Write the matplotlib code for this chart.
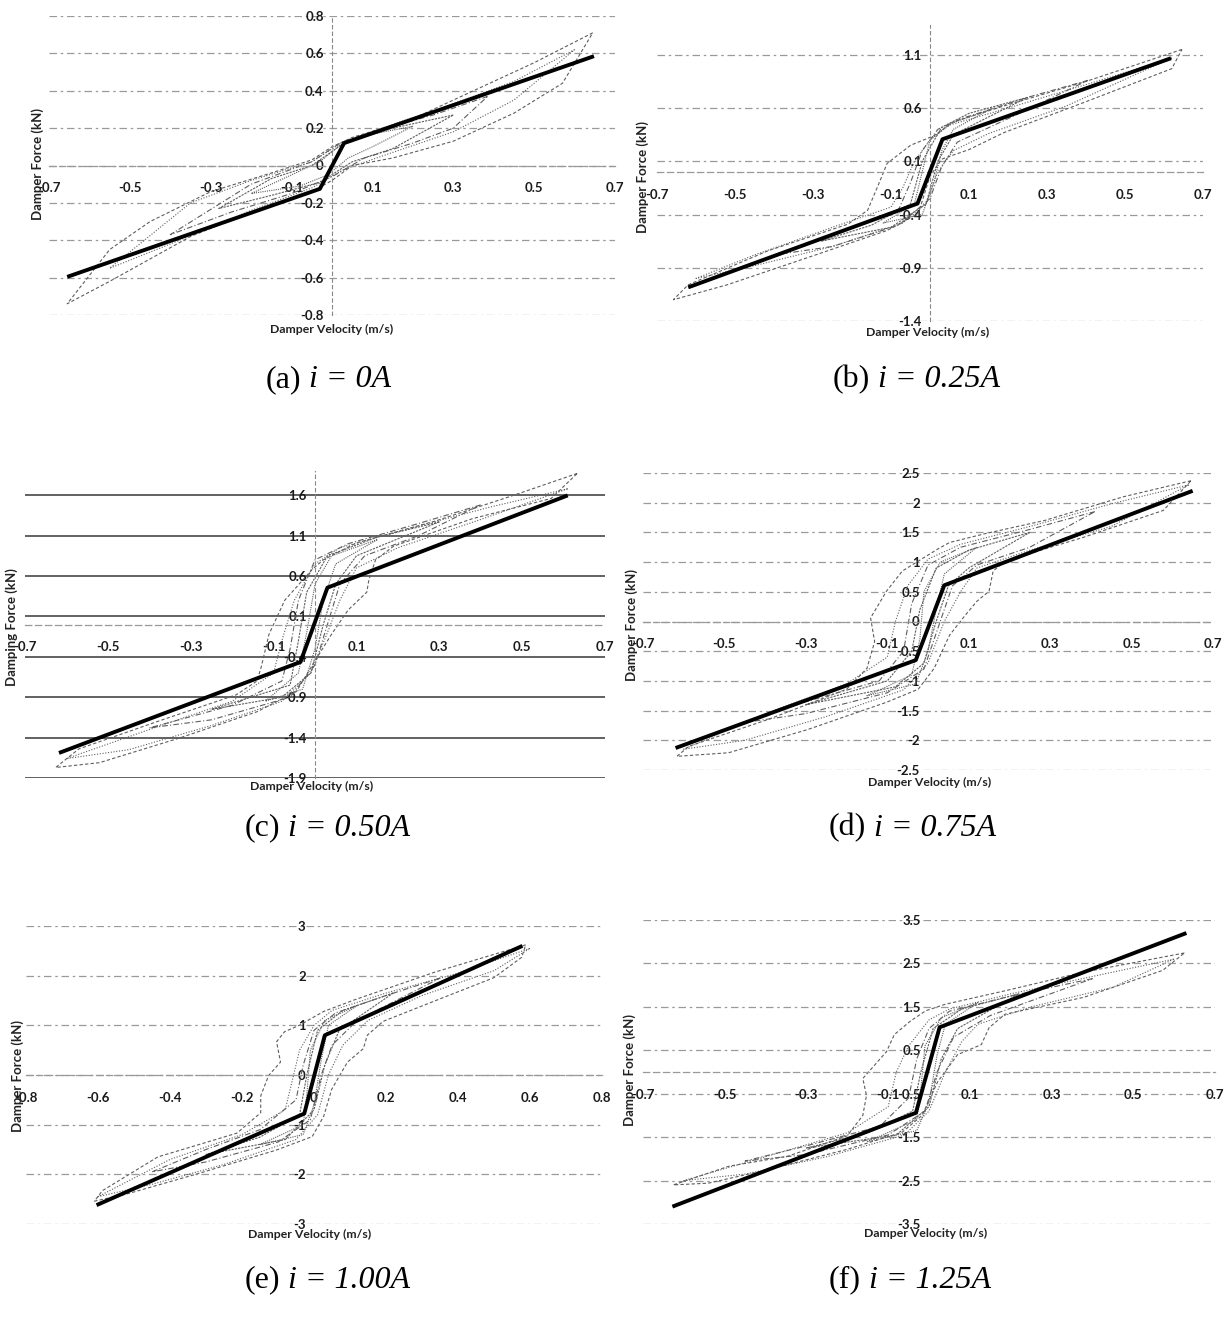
import numpy as np
import matplotlib
matplotlib.use("Agg")
import matplotlib.pyplot as plt

plt.rcParams['font.family'] = ['Lato', 'DejaVu Sans']

# ---------- data (velocity m/s, force kN) ----------
# bilinear model lines (thick black)
A_MODEL_V = [-0.655, -0.03, 0.03, 0.648]
A_MODEL_F = [-0.596, -0.125, 0.12, 0.585]
B_MODEL_V = [-0.62, -0.032, 0.032, 0.618]
B_MODEL_F = [-1.084, -0.297, 0.307, 1.068]
C_MODEL_V = [-0.618, -0.035, 0.03, 0.61]
C_MODEL_F = [-1.59, -0.464, 0.456, 1.598]
D_MODEL_V = [-0.62, -0.03, 0.04, 0.65]
D_MODEL_F = [-2.13, -0.65, 0.61, 2.2]
E_MODEL_V = [-0.604, -0.027, 0.03, 0.579]
E_MODEL_F = [-2.62, -0.777, 0.80, 2.6]
F_MODEL_V = [-0.628, -0.032, 0.026, 0.63]
F_MODEL_F = [-3.10, -0.94, 1.03, 3.20]

# measured hysteresis loops (thin grey), points in drawing order
A_LOOP1 = [(0.645, 0.71), (0.5, 0.55), (0.35, 0.40), (0.2, 0.25), (0.05, 0.15), (0.0, 0.10),
           (-0.05, 0.03), (-0.15, -0.04), (-0.3, -0.14), (-0.45, -0.30), (-0.55, -0.45),
           (-0.655, -0.74), (-0.55, -0.62), (-0.45, -0.50), (-0.35, -0.38), (-0.2, -0.25),
           (-0.05, -0.14), (0.0, -0.08), (0.05, 0.0), (0.15, 0.04), (0.3, 0.13), (0.45, 0.28),
           (0.57, 0.44)]
A_LOOP2 = [(0.60, 0.62), (0.45, 0.45), (0.3, 0.33), (0.15, 0.22), (0.03, 0.13), (-0.05, 0.02),
           (-0.2, -0.08), (-0.35, -0.2), (-0.55, -0.55), (-0.4, -0.42), (-0.2, -0.24),
           (-0.05, -0.12), (0.03, -0.02), (0.15, 0.07), (0.3, 0.18), (0.45, 0.35)]
A_LOOP3 = [(0.385, 0.37), (0.25, 0.27), (0.1, 0.18), (0.02, 0.12), (-0.05, 0.02), (-0.2, -0.10),
           (-0.4, -0.37), (-0.25, -0.25), (-0.1, -0.15), (0.0, -0.06), (0.08, 0.04), (0.2, 0.12),
           (0.3, 0.2)]
A_LOOP4 = [(0.3, 0.27), (0.15, 0.2), (0.03, 0.12), (-0.05, 0.0), (-0.15, -0.07), (-0.28, -0.23),
           (-0.15, -0.16), (-0.03, -0.09), (0.05, 0.02), (0.15, 0.09)]
A_LOOP5 = [(0.2, 0.21), (0.08, 0.16), (0.02, 0.11), (-0.03, 0.02), (-0.1, -0.05), (-0.2, -0.15),
           (-0.08, -0.11), (-0.01, -0.05), (0.04, 0.04), (0.1, 0.1)]

B_LOOP1 = [(0.646, 1.15), (0.4, 0.85), (0.19, 0.62), (0.06, 0.47), (0.01, 0.34), (-0.05, 0.25),
           (-0.11, 0.08), (-0.13, -0.1), (-0.16, -0.36), (-0.21, -0.49), (-0.415, -0.74),
           (-0.62, -1.06), (-0.658, -1.2), (-0.52, -1.06), (-0.31, -0.80), (-0.11, -0.55),
           (-0.03, -0.39), (0.0, -0.04), (0.03, 0.12), (0.1, 0.21), (0.19, 0.37), (0.4, 0.66),
           (0.62, 0.97)]
B_LOOP2 = [(0.62, 1.07), (0.4, 0.82), (0.2, 0.6), (0.05, 0.44), (0.0, 0.3), (-0.04, 0.1),
           (-0.07, -0.15), (-0.1, -0.33), (-0.25, -0.52), (-0.45, -0.78), (-0.6, -1.0),
           (-0.45, -0.88), (-0.25, -0.7), (-0.07, -0.48), (-0.01, -0.3), (0.02, 0.0),
           (0.06, 0.2), (0.15, 0.36), (0.35, 0.62)]
B_LOOP3 = [(0.405, 0.86), (0.25, 0.7), (0.08, 0.5), (0.02, 0.4), (-0.02, 0.2), (-0.05, -0.1),
           (-0.08, -0.35), (-0.2, -0.52), (-0.4, -0.78), (-0.25, -0.7), (-0.08, -0.5),
           (0.0, -0.25), (0.03, 0.05), (0.07, 0.28), (0.2, 0.5)]
B_LOOP4 = [(0.25, 0.7), (0.1, 0.55), (0.03, 0.42), (-0.02, 0.1), (-0.05, -0.3), (-0.15, -0.5),
           (-0.28, -0.65), (-0.1, -0.52), (-0.01, -0.3), (0.02, 0.1), (0.06, 0.35)]
B_LOOP5 = [(0.15, 0.58), (0.05, 0.45), (0.0, 0.3), (-0.02, 0.0), (-0.04, -0.3), (-0.12, -0.48),
           (-0.02, -0.4), (0.01, -0.1), (0.03, 0.2), (0.06, 0.4)]

C_LOOP1 = [(0.633, 1.87), (0.48, 1.6), (0.29, 1.28), (0.1, 1.01), (0.02, 0.8), (-0.007, 0.68),
           (-0.073, 0.3), (-0.111, -0.12), (-0.13, -0.53), (-0.14, -0.70), (-0.19, -0.87),
           (-0.38, -1.2), (-0.57, -1.54), (-0.626, -1.77), (-0.52, -1.71), (-0.33, -1.41),
           (-0.14, -1.08), (-0.045, -0.83), (0.0, -0.45), (0.04, -0.12), (0.08, 0.18),
           (0.125, 0.4), (0.13, 0.55), (0.146, 0.80), (0.19, 0.97), (0.38, 1.31), (0.57, 1.56)]
C_LOOP2 = [(0.61, 1.68), (0.42, 1.45), (0.22, 1.18), (0.06, 0.95), (0.0, 0.75), (-0.05, 0.3),
           (-0.08, -0.2), (-0.1, -0.6), (-0.2, -0.95), (-0.4, -1.3), (-0.6, -1.66), (-0.45, -1.55),
           (-0.25, -1.25), (-0.08, -0.95), (-0.01, -0.6), (0.03, -0.1), (0.06, 0.3), (0.1, 0.7),
           (0.2, 0.95), (0.4, 1.3)]
C_LOOP3 = [(0.4, 1.48), (0.25, 1.25), (0.08, 1.0), (0.0, 0.8), (-0.04, 0.3), (-0.06, -0.3),
           (-0.08, -0.7), (-0.2, -1.0), (-0.4, -1.28), (-0.25, -1.18), (-0.06, -0.9), (0.0, -0.5),
           (0.03, 0.0), (0.06, 0.5), (0.12, 0.85), (0.25, 1.1)]
C_LOOP4 = [(0.3, 1.27), (0.15, 1.08), (0.03, 0.85), (-0.02, 0.4), (-0.04, -0.2), (-0.06, -0.75),
           (-0.25, -1.05), (-0.08, -0.9), (-0.01, -0.6), (0.02, 0.0), (0.05, 0.5), (0.1, 0.85)]
C_LOOP5 = [(0.15, 1.05), (0.04, 0.85), (0.0, 0.5), (-0.02, -0.1), (-0.04, -0.6), (-0.12, -0.95),
           (-0.03, -0.8), (0.0, -0.3), (0.02, 0.3), (0.05, 0.75)]

D_LOOP1 = [(0.646, 2.37), (0.48, 2.1), (0.286, 1.7), (0.141, 1.48), (0.053, 1.33), (0.024, 1.22),
           (-0.063, 0.85), (-0.102, 0.51), (-0.141, 0.06), (-0.131, -0.34), (-0.15, -0.79),
           (-0.2, -1.14), (-0.393, -1.65), (-0.587, -2.1), (-0.617, -2.27), (-0.49, -2.21),
           (-0.296, -1.82), (-0.102, -1.36), (-0.024, -1.14), (0.015, -0.79), (0.053, -0.23),
           (0.092, 0.11), (0.12, 0.34), (0.15, 0.51), (0.16, 0.85), (0.19, 1.02), (0.383, 1.42),
           (0.578, 1.87)]
D_LOOP2 = [(0.64, 2.3), (0.45, 1.98), (0.25, 1.6), (0.08, 1.3), (0.0, 1.05), (-0.05, 0.6),
           (-0.08, 0.0), (-0.1, -0.6), (-0.2, -1.05), (-0.4, -1.55), (-0.6, -2.15), (-0.45, -2.0),
           (-0.25, -1.6), (-0.06, -1.15), (0.0, -0.7), (0.04, 0.0), (0.08, 0.5), (0.12, 0.9),
           (0.25, 1.2), (0.45, 1.6)]
D_LOOP3 = [(0.41, 1.85), (0.25, 1.55), (0.08, 1.25), (0.0, 0.95), (-0.04, 0.3), (-0.06, -0.5),
           (-0.12, -1.0), (-0.3, -1.35), (-0.45, -1.7), (-0.3, -1.55), (-0.1, -1.2), (-0.01, -0.8),
           (0.03, 0.0), (0.06, 0.6), (0.12, 0.95), (0.25, 1.25)]
D_LOOP4 = [(0.25, 1.5), (0.1, 1.2), (0.02, 0.9), (-0.02, 0.2), (-0.04, -0.5), (-0.1, -1.0),
           (-0.3, -1.4), (-0.08, -1.1), (-0.01, -0.7), (0.02, 0.0), (0.05, 0.6), (0.1, 0.9)]
D_LOOP5 = [(0.12, 1.25), (0.03, 1.0), (-0.01, 0.5), (-0.02, -0.3), (-0.04, -0.9), (-0.15, -1.25),
           (-0.03, -1.05), (0.0, -0.5), (0.02, 0.2), (0.04, 0.8)]

E_LOOP1 = [(0.588, 2.62), (0.335, 2.07), (0.115, 1.52), (0.027, 1.28), (-0.005, 1.15),
           (-0.038, 1.01), (-0.082, 0.87), (-0.104, 0.67), (-0.093, 0.26), (-0.126, -0.01),
           (-0.148, -0.42), (-0.148, -0.76), (-0.214, -1.17), (-0.434, -1.65), (-0.588, -2.33),
           (-0.61, -2.54), (-0.522, -2.4), (-0.324, -1.99), (-0.104, -1.51), (-0.005, -1.24),
           (0.027, -0.83), (0.049, -0.29), (0.093, 0.26), (0.137, 0.53), (0.148, 0.80),
           (0.192, 1.08), (0.335, 1.49), (0.5, 1.96), (0.577, 2.37)]
E_LOOP2 = [(0.6, 2.55), (0.4, 2.05), (0.2, 1.65), (0.05, 1.3), (0.0, 1.0), (-0.04, 0.5),
           (-0.06, -0.1), (-0.08, -0.7), (-0.2, -1.2), (-0.4, -1.7), (-0.6, -2.45), (-0.45, -2.2),
           (-0.25, -1.8), (-0.05, -1.3), (0.01, -0.8), (0.04, 0.0), (0.08, 0.6), (0.15, 1.1),
           (0.3, 1.6), (0.5, 2.1)]
E_LOOP3 = [(0.35, 1.95), (0.2, 1.6), (0.06, 1.25), (0.0, 0.9), (-0.03, 0.2), (-0.05, -0.5),
           (-0.15, -1.1), (-0.3, -1.5), (-0.45, -1.95), (-0.3, -1.75), (-0.1, -1.35), (-0.01, -0.9),
           (0.02, 0.0), (0.05, 0.6), (0.12, 1.1)]
E_LOOP4 = [(0.22, 1.65), (0.08, 1.3), (0.01, 0.9), (-0.02, 0.0), (-0.04, -0.8), (-0.15, -1.25),
           (-0.3, -1.6), (-0.08, -1.3), (0.0, -0.7), (0.03, 0.2), (0.07, 0.9)]
E_LOOP5 = [(0.12, 1.4), (0.03, 1.1), (-0.01, 0.5), (-0.02, -0.4), (-0.03, -1.0), (-0.15, -1.4),
           (-0.03, -1.2), (0.0, -0.6), (0.02, 0.3), (0.04, 1.0)]

F_LOOP1 = [(0.625, 2.74), (0.379, 2.3), (0.186, 1.87), (0.04, 1.56), (-0.008, 1.41),
           (-0.046, 1.17), (-0.085, 0.86), (-0.104, 0.47), (-0.162, -0.15), (-0.153, -0.54),
           (-0.162, -1.0), (-0.2, -1.47), (-0.346, -1.94), (-0.49, -2.17), (-0.626, -2.6),
           (-0.54, -2.56), (-0.394, -2.25), (-0.2, -1.78), (-0.066, -1.39), (-0.017, -1.0),
           (0.021, -0.23), (0.07, 0.4), (0.128, 0.63), (0.147, 1.02), (0.186, 1.33),
           (0.379, 1.72), (0.572, 2.34)]
F_LOOP2 = [(0.6, 2.6), (0.4, 2.2), (0.2, 1.8), (0.05, 1.45), (0.0, 1.2), (-0.05, 0.6),
           (-0.08, 0.0), (-0.1, -0.8), (-0.2, -1.4), (-0.4, -1.95), (-0.6, -2.5), (-0.45, -2.35),
           (-0.25, -1.95), (-0.06, -1.45), (0.0, -0.9), (0.04, 0.0), (0.08, 0.7), (0.12, 1.1),
           (0.25, 1.5), (0.45, 1.95)]
F_LOOP3 = [(0.4, 2.15), (0.2, 1.75), (0.05, 1.4), (0.0, 1.0), (-0.03, 0.3), (-0.05, -0.6),
           (-0.12, -1.25), (-0.3, -1.7), (-0.45, -2.05), (-0.3, -1.9), (-0.1, -1.45), (-0.01, -0.9),
           (0.02, 0.0), (0.06, 0.8), (0.15, 1.3)]
F_LOOP4 = [(0.22, 1.8), (0.08, 1.45), (0.01, 1.0), (-0.02, 0.0), (-0.04, -0.9), (-0.15, -1.4),
           (-0.3, -1.75), (-0.08, -1.45), (0.0, -0.8), (0.03, 0.3), (0.07, 1.0)]
F_LOOP5 = [(0.12, 1.6), (0.03, 1.25), (-0.01, 0.6), (-0.02, -0.4), (-0.03, -1.1), (-0.15, -1.6),
           (-0.03, -1.35), (0.0, -0.7), (0.02, 0.4), (0.04, 1.1)]

# axis ticks
X_TICKS_07 = [-0.7, -0.5, -0.3, -0.1, 0.1, 0.3, 0.5, 0.7]
X_TICKS_08 = [-0.8, -0.6, -0.4, -0.2, 0, 0.2, 0.4, 0.6, 0.8]
A_YTICKS = [-0.8, -0.6, -0.4, -0.2, 0, 0.2, 0.4, 0.6, 0.8]
B_YTICKS = [-1.4, -0.9, -0.4, 0.1, 0.6, 1.1]
C_YTICKS = [-1.9, -1.4, -0.9, -0.4, 0.1, 0.6, 1.1, 1.6]
D_YTICKS = [-2.5, -2, -1.5, -1, -0.5, 0, 0.5, 1, 1.5, 2, 2.5]
E_YTICKS = [-3, -2, -1, 0, 1, 2, 3]
F_YTICKS = [-3.5, -2.5, -1.5, -0.5, 0.5, 1.5, 2.5, 3.5]

CAPTION_TAGS = ["(a)", "(b)", "(c)", "(d)", "(e)", "(f)"]
CAPTION_CURRENTS = ["i = 0A", "i = 0.25A", "i = 0.50A", "i = 0.75A", "i = 1.00A", "i = 1.25A"]
Y_LABELS = ["Damper Force (kN)", "Damper Force (kN)", "Damping Force (kN)",
            "Damper Force (kN)", "Damper Force (kN)", "Damper Force (kN)"]
X_LABEL = "Damper Velocity (m/s)"

# ---------- layout (pixels in a 1229 x 1324 canvas) ----------
W, H = 1229, 1324
fig = plt.figure(figsize=(W / 100, H / 100), dpi=100)
fig.patch.set_facecolor("white")


def fx(x):
    return x / W


def fy(y):
    return 1 - y / H


panels = [
    dict(box=(49, 16, 615, 315), xlim=(-0.7, 0.7), ylim=(-0.8, 0.8), xt=X_TICKS_07, yt=A_YTICKS,
         mv=A_MODEL_V, mf=A_MODEL_F, loops=[A_LOOP1, A_LOOP2, A_LOOP3, A_LOOP4, A_LOOP5],
         yl=(38, 164), xl=(332, 329), cap=(328, 380), vline=True, grid="dash"),
    dict(box=(657, 25, 1203, 321), xlim=(-0.7, 0.7), ylim=(-1.4, 1.38), xt=X_TICKS_07, yt=B_YTICKS,
         mv=B_MODEL_V, mf=B_MODEL_F, loops=[B_LOOP1, B_LOOP2, B_LOOP3, B_LOOP4, B_LOOP5],
         yl=(643, 177), xl=(928, 332), cap=(916, 380), vline=True, grid="dash"),
    dict(box=(25, 471, 605, 778), xlim=(-0.7, 0.7), ylim=(-1.9, 1.9), xt=X_TICKS_07, yt=C_YTICKS,
         mv=C_MODEL_V, mf=C_MODEL_F, loops=[C_LOOP1, C_LOOP2, C_LOOP3, C_LOOP4, C_LOOP5],
         yl=(12, 627), xl=(312, 786), cap=(327, 828), vline=True, grid="solid"),
    dict(box=(643, 473, 1213, 770), xlim=(-0.7, 0.7), ylim=(-2.5, 2.5), xt=X_TICKS_07, yt=D_YTICKS,
         mv=D_MODEL_V, mf=D_MODEL_F, loops=[D_LOOP1, D_LOOP2, D_LOOP3, D_LOOP4, D_LOOP5],
         yl=(632, 625), xl=(930, 782), cap=(912, 828), vline=False, grid="dash"),
    dict(box=(26, 926, 602, 1224), xlim=(-0.8, 0.8), ylim=(-3, 3), xt=X_TICKS_08, yt=E_YTICKS,
         mv=E_MODEL_V, mf=E_MODEL_F, loops=[E_LOOP1, E_LOOP2, E_LOOP3, E_LOOP4, E_LOOP5],
         yl=(18, 1076), xl=(310, 1234), cap=(327, 1280), vline=False, grid="dash"),
    dict(box=(643, 920, 1215, 1224), xlim=(-0.7, 0.7), ylim=(-3.5, 3.5), xt=X_TICKS_07, yt=F_YTICKS,
         mv=F_MODEL_V, mf=F_MODEL_F, loops=[F_LOOP1, F_LOOP2, F_LOOP3, F_LOOP4, F_LOOP5],
         yl=(630, 1070), xl=(926, 1233), cap=(910, 1280), vline=False, grid="dash"),
]

loop_styles = [(0, (3, 2)), (0, (1, 1.5)), (0, (5, 2, 1, 2)), (0, (2, 1)), (0, (1, 1))]


def fmt(v):
    s = ("%.1f" % v).rstrip("0").rstrip(".")
    return "0" if s in ("-0", "") else s


renderer = fig.canvas.get_renderer()

for i, p in enumerate(panels):
    x0, y0, x1, y1 = p["box"]
    ax = fig.add_axes([fx(x0), fy(y1), (x1 - x0) / W, (y1 - y0) / H])
    ax.set_xlim(*p["xlim"])
    ax.set_ylim(*p["ylim"])
    ax.patch.set_alpha(0)

    # horizontal gridlines
    for yv in p["yt"]:
        if p["grid"] == "solid":
            ax.axhline(yv, color="#555555", lw=1.3, zorder=1)
        else:
            ax.axhline(yv, color="#9a9a9a", lw=0.9, ls=(0, (6, 3, 2, 3)), zorder=1)

    # axes crossing at zero
    for side in ["top", "right"]:
        ax.spines[side].set_visible(False)
    ax.spines["left"].set_position("zero")
    ax.spines["bottom"].set_position("zero")
    ax.spines["bottom"].set_color("#999999")
    ax.spines["bottom"].set_linestyle((0, (5, 3)))
    ax.spines["bottom"].set_linewidth(0.9)
    ax.spines["left"].set_color("#888888")
    ax.spines["left"].set_linestyle((0, (3, 3)))
    ax.spines["left"].set_linewidth(0.8)
    ax.spines["left"].set_visible(p["vline"])

    ax.set_xticks(p["xt"])
    ax.set_xticklabels([fmt(v) for v in p["xt"]], fontweight="bold")
    ax.set_yticks(p["yt"])
    ax.set_yticklabels([fmt(v) for v in p["yt"]], fontweight="bold")
    ax.tick_params(axis="x", length=0, pad=12, labelsize=9.5, colors="#1a1a1a")
    ax.tick_params(axis="y", length=0, pad=6, labelsize=9.5, colors="#1a1a1a")

    # measured loops
    for k, loop in enumerate(p["loops"]):
        pts = loop + [loop[0]]
        v = [q[0] for q in pts]
        f = [q[1] for q in pts]
        ax.plot(v, f, color="#5e5e5e", lw=0.8, ls=loop_styles[k % len(loop_styles)], zorder=2)

    # model
    ax.plot(p["mv"], p["mf"], color="black", lw=2.8, solid_capstyle="butt", zorder=3)

    # axis titles
    fig.text(fx(p["yl"][0]), fy(p["yl"][1]), Y_LABELS[i], rotation=90, ha="center", va="center",
             fontsize=9.5, fontweight="bold", color="#222222")
    fig.text(fx(p["xl"][0]), fy(p["xl"][1]), X_LABEL, ha="center", va="center",
             fontsize=8.8, fontweight="bold", color="#222222")

    # caption: upright tag + italic current, centred as one line
    t1 = fig.text(0, fy(p["cap"][1]), CAPTION_TAGS[i], ha="left", va="center",
                  fontsize=23, family="Liberation Serif", color="black")
    t2 = fig.text(0, fy(p["cap"][1]), CAPTION_CURRENTS[i], ha="left", va="center",
                  fontsize=23, family="Liberation Serif", style="italic", color="black")
    w1 = t1.get_window_extent(renderer).width
    w2 = t2.get_window_extent(renderer).width
    gap = 8
    start = p["cap"][0] - (w1 + gap + w2) / 2
    t1.set_x(fx(start))
    t2.set_x(fx(start + w1 + gap))

fig.savefig("out.png", dpi=100)
